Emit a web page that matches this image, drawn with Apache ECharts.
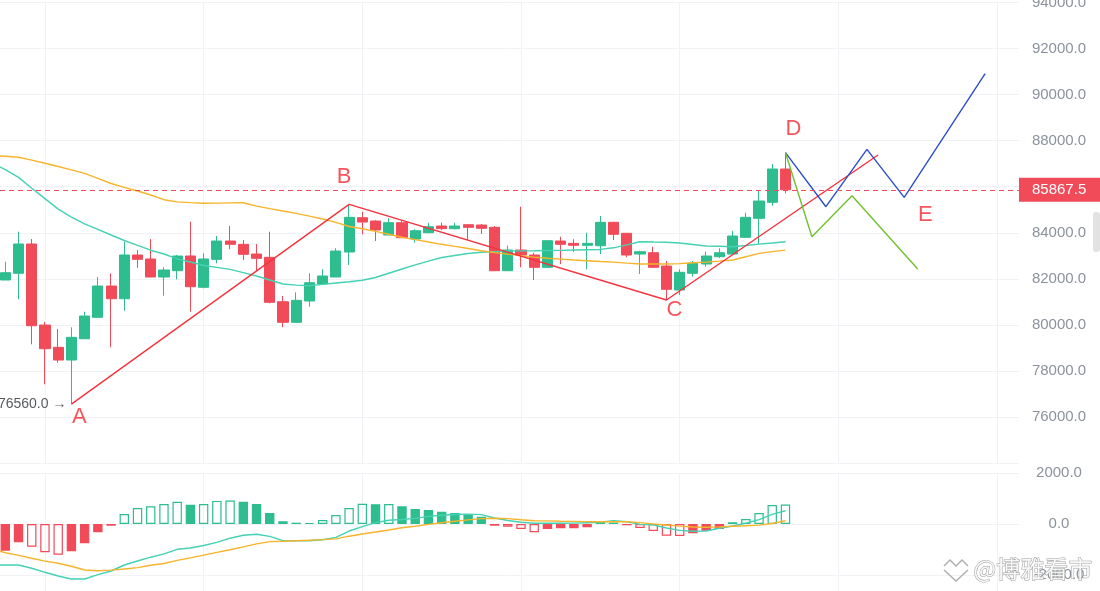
<!DOCTYPE html>
<html><head><meta charset="utf-8">
<script src="https://cdn.jsdelivr.net/npm/echarts@6/dist/echarts.min.js"></script>
<style>html,body{margin:0;padding:0;background:#fff}#c{width:1100px;height:591px}</style>
</head><body><div id="c"></div>
<script>
// ---------- DATA ----------
// candles: [open, close, low, high], index 0..59
const candles = [
[81950,82267,81950,82744],[82241,83513,81111,84047],[83513,79965,79157,83730],[79995,78966,77420,80126],
[79027,78475,78359,79822],[78475,79461,76560,79896],[79400,80386,79400,80573],[80330,81689,80330,82080],
[81689,81138,79027,82240],[81138,83035,80616,83613],[83035,82848,82484,83252],[82862,82080,82080,83730],
[82080,82384,81268,82501],[82353,82992,81980,83035],[82992,81659,80573,84481],[81633,82862,81589,83109],
[82848,83643,82675,83860],[83643,83500,83283,84294],[83500,83065,82818,83686],[83078,82891,82353,83513],
[82935,80981,80938,84047],[81007,80113,79896,81255],[80113,81068,80113,81415],[81038,81832,80790,82240],
[81776,82123,81776,82414],[82080,83209,82080,83326],[83165,84672,82601,85237],[84655,84468,83934,84916],
[84511,84121,83643,84550],[83904,84438,83904,84629],[84438,83787,83787,84525],[83730,84091,83570,84151],
[84004,84264,83978,84438],[84294,84180,84120,84440],[84177,84294,84150,84438],[84351,84238,83687,84351],
[84338,84195,83947,84380],[84238,82353,82353,84294],[82353,83252,82353,83439],[83252,83035,82501,85133],
[83035,82501,81950,83135],[82501,83657,82501,83687],[83643,83500,82644,83830],[83543,83457,83178,83717],
[83457,83543,82414,84004],[83439,84455,83078,84729],[84455,83934,83687,84480],[83978,83035,82935,83978],
[83078,83178,82210,83222],[83135,82501,82480,83395],[82557,81546,81081,82774],[81515,82284,81298,82414],
[82241,82675,82100,82774],[82645,82992,82527,83178],[82962,83135,82900,83326],[83078,83860,83050,84090],
[83804,84672,83780,84872],[84629,85380,83513,85858],[85324,86770,85176,86987],[86770,85867.5,85715,87478]
];
const currentPrice = 85867.5;
// moving averages, index -1..59
const maFast = [87030,86739,86405,85936,85484,85028,84685,84386,84147,83904,83665,83452,83244,83079,82870,82731,82579,82497,82414,82271,82123,81950,81776,81728,81698,81759,81819,81876,81941,82058,82245,82427,82606,82770,82927,83014,83100,83153,83183,83209,83213,83218,83231,83239,83252,83265,83278,83348,83478,83613,83600,83591,83556,83491,83426,83413,83396,83448,83508,83556,83609];
const maSlow = [87352,87321,87282,87156,87022,86878,86735,86583,86362,86140,85971,85814,85641,85437,85345,85311,85280,85289,85298,85306,85159,85050,84946,84846,84724,84599,84455,84273,84177,84064,83938,83808,83704,83600,83500,83409,83317,83222,83139,83074,83009,82944,82896,82857,82818,82788,82757,82727,82683,82644,82644,82644,82662,82697,82727,82770,82818,82961,83105,83183,83248];
// MACD histogram index 0..59
const macdHist = [-1047,-718,-890,-1110,-1204,-1071,-757,-325,-67,392,627,694,784,875,757,784,905,920,875,784,431,106,51,40,157,353,627,790,775,785,694,588,549,482,431,365,286,-67,-106,-196,-325,-196,-169,-165,-129,67,55,-50,-157,-275,-459,-470,-365,-263,-196,67,196,431,745,760];
// DIF / DEA index -1..59
const difLine = [-1608,-1608,-1608,-1737,-1894,-2039,-2157,-2157,-1988,-1843,-1608,-1451,-1302,-1169,-992,-941,-843,-718,-557,-443,-404,-486,-651,-655,-655,-620,-526,-275,-102,55,145,176,220,298,341,373,388,369,235,137,71,27,27,27,35,51,67,129,86,-16,-31,-157,-251,-282,-275,-165,-78,31,173,380,518];
const deaLine = [-981,-1126,-1232,-1345,-1455,-1541,-1655,-1804,-1832,-1808,-1765,-1710,-1616,-1549,-1428,-1326,-1220,-1114,-1008,-898,-780,-690,-675,-659,-635,-612,-584,-478,-392,-314,-235,-149,-86,-16,51,106,161,212,227,212,165,129,122,110,102,94,90,90,90,55,4,-39,-82,-118,-129,-114,-90,-71,-43,20,129];
// hand-drawn wave annotations: [candle index, price]
const redPath = [[5,76560],[26,85237],[50,81081],[66,87378]];
const bluePath = [[59,87478],[62.06,85133],[65.16,87625],[67.98,85541],[74.1,90908]];
const greenPath = [[59,87478],[61.0,83830],[64.03,85610],[69.0,82427]];
const waveNames = ['A','B','C','D','E'];
const wavePoints = [redPath[0], redPath[1], redPath[2], bluePath[0], bluePath[3]];
// axes
const priceAxis = {min:74000, max:94000, step:2000};
const macdAxis = {min:-4000, max:2000, step:2000};
const gridXs = [3,15,27,39,51,63,75];

// ---------- STYLE ----------
const UP = '#2dbd8e', DOWN = '#f14b5a';
const TEAL = '#45d1b3', ORANGE = '#f6b42a';
const WAVE_RED = '#f5333f', WAVE_BLUE = '#2c4fc9', WAVE_GREEN = '#6fc22e';
const LABEL_RED = '#f22a35';
const GRID_LINE = '#f1f2f5';
const FONT = '"Liberation Sans", Arial, sans-serif';
const labelOffsets = {A:[8,13], B:[-5,-27], C:[8,10], D:[8,-24], E:[21,18]};
const xMin = -0.4, xMax = 76.66;

const chart = echarts.init(document.getElementById('c'), null, {renderer:'canvas'});

const axisLabelStyle = {color:'#8c929c', fontSize:15, fontFamily:FONT, align:'center', margin:40,
  formatter: v => v.toFixed(1)};

const histData = macdHist.map((v,i) => {
  const prev = i > 0 ? macdHist[i-1] : null;
  const hollow = prev !== null && Math.abs(v) > Math.abs(prev);
  const c = v >= 0 ? UP : DOWN;
  return {value:[i, v], itemStyle:{color: hollow ? 'rgba(0,0,0,0)' : c, borderColor:c, borderWidth:1.2}};
});

const lowIdx = candles.reduce((b,c,i) => c[2] < candles[b][2] ? i : b, 0);

const option = {
  animation:false,
  backgroundColor:'#fff',
  grid:[
    {left:0, right:81, top:2.5, height:460.6, outerBoundsMode:'none', containLabel:false},
    {left:0, right:81, top:473, height:153, outerBoundsMode:'none', containLabel:false}
  ],
  xAxis:[
    {type:'value', gridIndex:0, min:xMin, max:xMax, show:false},
    {type:'value', gridIndex:1, min:xMin, max:xMax, show:false}
  ],
  yAxis:[
    {type:'value', gridIndex:0, position:'right', min:priceAxis.min, max:priceAxis.max, interval:priceAxis.step,
     axisLine:{show:false}, axisTick:{show:false},
     axisLabel:Object.assign({showMinLabel:false}, axisLabelStyle),
     splitLine:{lineStyle:{color:GRID_LINE, width:1}}},
    {type:'value', gridIndex:1, position:'right', min:macdAxis.min, max:macdAxis.max, interval:macdAxis.step,
     axisLine:{show:false}, axisTick:{show:false},
     axisLabel:Object.assign({showMinLabel:false}, axisLabelStyle),
     splitLine:{lineStyle:{color:GRID_LINE, width:1}}}
  ],
  series:[
    {type:'line', name:'MA fast', xAxisIndex:0, yAxisIndex:0, data:maFast.map((v,k)=>[k-1,v]),
     showSymbol:false, lineStyle:{color:TEAL, width:1.4}, z:3,
     markLine:{silent:true, symbol:['none','none'], z:0, label:{show:false},
       lineStyle:{color:GRID_LINE, width:1, type:'solid'}, data:gridXs.map(x=>({xAxis:x}))}},
    {type:'line', name:'MA slow', xAxisIndex:0, yAxisIndex:0, data:maSlow.map((v,k)=>[k-1,v]),
     showSymbol:false, lineStyle:{color:ORANGE, width:1.4}, z:3},
    {type:'candlestick', xAxisIndex:0, yAxisIndex:0, barWidth:10.6, z:2,
     encode:{x:0, y:[1,2,3,4]},
     data:candles.map((c,i)=>[i, c[0], c[1], c[2], c[3]]),
     itemStyle:{color:UP, color0:DOWN, borderColor:UP, borderColor0:DOWN, borderWidth:1}},
    {type:'line', name:'last price', xAxisIndex:0, yAxisIndex:0, data:[], z:6,
     markLine:{silent:true, symbol:['none','none'], z:6,
       itemStyle:{color:DOWN},
       lineStyle:{color:DOWN, width:1, type:[5,4], opacity:1},
       label:{show:true, position:'end', distance:0, formatter:()=>currentPrice.toFixed(1),
         color:'#fff', backgroundColor:DOWN, padding:[5,14,4,13], fontSize:15, fontFamily:FONT},
       data:[{yAxis:currentPrice, lineStyle:{color:DOWN}}]}},
    {type:'line', xAxisIndex:0, yAxisIndex:0, data:redPath, showSymbol:false, z:5,
     lineStyle:{color:WAVE_RED, width:1.4}},
    {type:'line', xAxisIndex:0, yAxisIndex:0, data:bluePath, showSymbol:false, z:5,
     lineStyle:{color:WAVE_BLUE, width:1.4}},
    {type:'line', xAxisIndex:0, yAxisIndex:0, data:greenPath, showSymbol:false, z:5,
     lineStyle:{color:WAVE_GREEN, width:1.4}},
    {type:'scatter', xAxisIndex:0, yAxisIndex:0, symbolSize:0, z:7, silent:true,
     data:waveNames.map((n,i)=>({name:n, value:wavePoints[i],
       label:{offset:labelOffsets[n]}})),
     label:{show:true, position:'inside', formatter:p=>p.name, color:LABEL_RED, fontSize:22, fontFamily:FONT}},
    {type:'scatter', xAxisIndex:0, yAxisIndex:0, symbolSize:0, z:7, silent:true,
     data:[[lowIdx, candles[lowIdx][2]]],
     label:{show:true, position:'left', distance:5, formatter:p=>p.value[1].toFixed(1)+' \u2192',
       color:'#2b2f36', fontSize:14, fontFamily:FONT}},
    {type:'bar', xAxisIndex:1, yAxisIndex:1, barWidth:9.4, data:histData, z:2,
     markLine:{silent:true, symbol:['none','none'], z:0, label:{show:false},
       lineStyle:{color:GRID_LINE, width:1, type:'solid'}, data:gridXs.map(x=>({xAxis:x}))}},
    {type:'line', xAxisIndex:1, yAxisIndex:1, data:difLine.map((v,k)=>[k-1,v]), showSymbol:false, z:3,
     lineStyle:{color:TEAL, width:1.4}},
    {type:'line', xAxisIndex:1, yAxisIndex:1, data:deaLine.map((v,k)=>[k-1,v]), showSymbol:false, z:3,
     lineStyle:{color:ORANGE, width:1.4}}
  ],
  graphic:[
    {type:'rect', right:0, top:212, shape:{width:7, height:40, r:3}, style:{fill:'#e2e2e2'}, z:10},
    {type:'text', left:973, top:556, z:10, style:{text:'@博雅看市', font:'24px "Noto Sans CJK SC"',
      fill:'rgba(255,255,255,0.85)', stroke:'#a0a0a0', lineWidth:1}},
    {type:'polyline', z:10, shape:{points:[[944,566],[950,560],[956,566],[962,560],[968,566]]},
      style:{stroke:'#b0b0b0', lineWidth:1.5, fill:null}},
    {type:'polyline', z:10, shape:{points:[[944,570],[956,581],[968,570]]},
      style:{stroke:'#b0b0b0', lineWidth:1.5, fill:null}}
  ]
};
chart.setOption(option);
</script>
</body></html>
